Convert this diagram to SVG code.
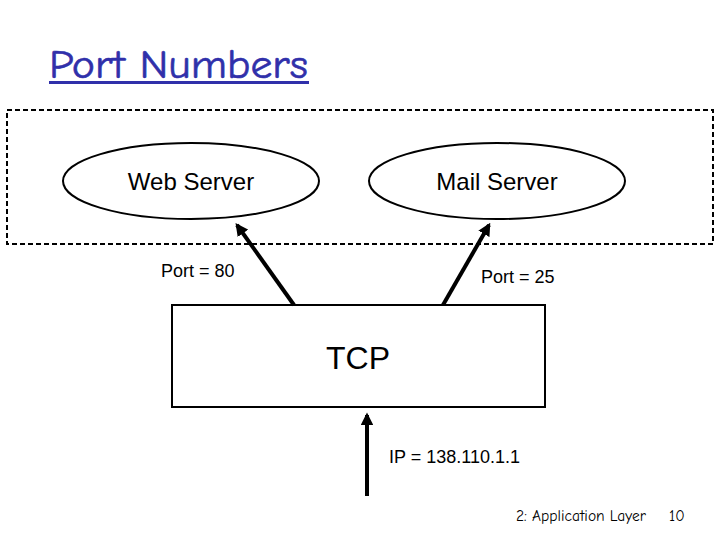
<svg xmlns="http://www.w3.org/2000/svg" width="720" height="540" viewBox="0 0 720 540">
<defs>
<style>
.lbl{font-family:"Liberation Sans",Arial,sans-serif;fill:#000}
.hand{font-family:"Comic Neue","Comic Sans MS","DejaVu Sans",sans-serif}
.node{fill:#fff;stroke:#000;stroke-width:2}
.conn{stroke:#000;stroke-width:4;fill:none;marker-end:url(#ah)}
</style>
<marker id="ah" viewBox="0 0 10 10" refX="8" refY="5" markerWidth="3.2" markerHeight="3.2" orient="auto" markerUnits="strokeWidth">
<path d="M0,0 L10,5 L0,10 z" fill="#000"/>
</marker>
</defs>
<rect width="720" height="540" fill="#fff"/>
<g id="title">
<text x="49" y="78" class="hand" font-size="40" fill="#3030aa" stroke="#3030aa" stroke-width="0.6" textLength="259" lengthAdjust="spacingAndGlyphs">Port Numbers</text>
<rect x="49" y="81" width="260" height="3" fill="#3030aa"/>
</g>
<g id="host-boundary">
<rect x="7" y="110" width="706" height="134" fill="none" stroke="#000" stroke-width="2" stroke-dasharray="5,3"/>
</g>
<g id="web-server">
<ellipse class="node" cx="191" cy="181" rx="128" ry="38"/>
<text class="lbl" x="191" y="190" font-size="24" text-anchor="middle">Web Server</text>
</g>
<g id="mail-server">
<ellipse class="node" cx="497" cy="181" rx="128" ry="38"/>
<text class="lbl" x="497" y="190" font-size="24" text-anchor="middle">Mail Server</text>
</g>
<g id="tcp">
<rect class="node" x="172" y="305" width="373" height="102"/>
<text class="lbl" x="358" y="369" font-size="32" text-anchor="middle">TCP</text>
</g>
<g id="connectors">
<line class="conn" x1="294" y1="305" x2="237" y2="225"/>
<line class="conn" x1="443" y1="305" x2="489" y2="225"/>
<line class="conn" x1="367" y1="496" x2="367" y2="415"/>
<text class="lbl" x="161" y="277" font-size="18">Port = 80</text>
<text class="lbl" x="481" y="283" font-size="18">Port = 25</text>
<text class="lbl" x="389" y="463" font-size="18">IP = 138.110.1.1</text>
</g>
<g id="footer">
<text class="hand" x="516" y="521" font-size="15.5" fill="#000">2: Application Layer</text>
<text class="hand" x="669" y="521" font-size="15.5" fill="#000">10</text>
</g>
</svg>
